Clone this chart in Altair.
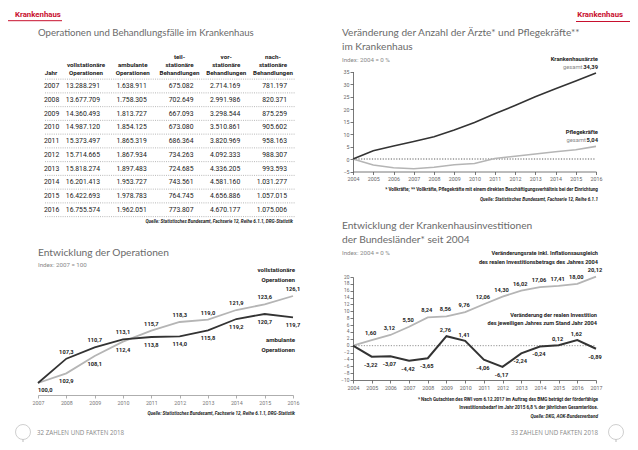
import altair as alt
import pandas as pd

# ---------------- data ----------------
tab_years = list(range(2007, 2017))
voll_ops = [13288291, 13677709, 14360493, 14987120, 15373497, 15714665, 15818274, 16201413, 16422693, 16755574]
amb_ops = [1638911, 1758305, 1813727, 1854125, 1865319, 1867934, 1897483, 1953727, 1978783, 1962051]
teil_stat = [675082, 702649, 667093, 673080, 686364, 734263, 724685, 743561, 764745, 773807]
vor_stat = [2714169, 2991986, 3298544, 3510861, 3820969, 4092333, 4336205, 4581160, 4656886, 4670177]
nach_stat = [781197, 820371, 875259, 905602, 958163, 988307, 993593, 1031277, 1057015, 1075006]
tab_cols = ["Jahr", "voll", "amb", "teil", "vor", "nach"]
tab_heads = ["Jahr", "vollstationäre\nOperationen", "ambulante\nOperationen",
             "teil-\nstationäre\nBehandlungen", "vor-\nstationäre\nBehandlungen",
             "nach-\nstationäre\nBehandlungen"]

op_years = list(range(2007, 2017))
op_voll = [100.0, 102.9, 108.1, 112.4, 115.7, 118.3, 119.0, 121.9, 123.6, 126.1]
op_amb = [100.0, 107.3, 110.7, 113.1, 113.8, 114.0, 115.8, 119.2, 120.7, 119.7]

st_years = list(range(2004, 2017))
st_aerzte = [0, 3.3, 5.2, 7.0, 8.9, 11.6, 14.6, 18.1, 21.4, 24.9, 28.1, 31.2, 34.39]
st_pflege = [0, -2.4, -3.5, -3.9, -3.3, -2.3, -1.8, 0.2, 1.1, 2.0, 2.9, 3.7, 5.04]

inv_years = list(range(2004, 2018))
inv_infl = [0, 1.60, 3.12, 5.50, 8.24, 8.56, 9.76, 12.06, 14.30, 16.02, 17.06, 17.41, 18.00, 20.12]
inv_real = [0, -3.22, -3.07, -4.42, -3.65, 2.76, 1.41, -4.06, -6.17, -2.24, -0.24, 0.12, 1.62, -0.89]

# ---------------- helpers ----------------
NARROW = "Roboto, sans-serif"
TITLEF = "Lato, Open Sans, sans-serif"
RED = "#c8102e"
DARK = "#333333"
LIGHT = "#b5b5b5"


def de_int(v):
    return f"{v:,}".replace(",", ".")


def de_dec(v, n):
    return f"{v:.{n}f}".replace(".", ",")


def txt(s, x, y, size, color="#222", font=NARROW, weight="normal", align="left",
        style="normal", baseline="middle", lh=None):
    kw = dict(align=align, baseline=baseline, font=font, fontSize=size, color=color,
              fontWeight=weight, fontStyle=style, lineBreak="\n")
    if lh:
        kw["lineHeight"] = lh
    return alt.Chart(pd.DataFrame({"t": [s]})).mark_text(**kw).encode(
        x=alt.value(x), y=alt.value(y), text="t:N")


def deco_rule(x, x2, y, y2, color, width, dash=None):
    kw = dict(color=color, strokeWidth=width)
    if dash:
        kw["strokeDash"] = dash
    return alt.Chart(pd.DataFrame({"a": [0]})).mark_rule(**kw).encode(
        x=alt.value(x), x2=alt.value(x2), y=alt.value(y), y2=alt.value(y2))


def lin(domain, rng):
    return alt.Scale(domain=domain, range=rng, zero=False, nice=False)


def xaxis(values, offset, color="#999", lcolor="#777", size=5.3):
    return alt.Axis(orient="bottom", offset=offset, values=values, format="d", title=None,
                    grid=False, domainColor=color, tickColor=color, tickSize=3,
                    domainWidth=0.8, tickWidth=0.8, labelFont=NARROW, labelFontSize=size,
                    labelColor=lcolor, labelPadding=2, labelFlush=False, labelOverlap=False)


def yaxis(values, offset, size=5.3):
    return alt.Axis(orient="left", offset=offset, values=values, format="d", title=None,
                    grid=False, domainColor="#555", tickColor="#555", tickSize=3,
                    domainWidth=0.8, tickWidth=0.8, labelFont=NARROW, labelFontSize=size,
                    labelColor="#666", labelPadding=1, labelOverlap=False)


layers = []

# ---------------- page decorations ----------------
SRC = 4.6
layers += [
    txt("Krankenhaus", 7, 7, 7.8, RED, weight="bold"),
    deco_rule(0, 54, 12.7, 12.7, RED, 1),
    txt("Krankenhaus", 615, 7, 7.8, RED, weight="bold", align="right"),
    deco_rule(568, 622, 13.5, 13.5, RED, 1),
    txt("Operationen und Behandlungsfälle im Krankenhaus", 30, 25, 9.6, "#6a6a6a", font=TITLEF),
    txt("Entwicklung der Operationen", 30, 245, 10.2, "#6a6a6a", font=TITLEF),
    txt("Index: 2007 = 100", 30, 257, 6.2, "#888"),
    txt("Veränderung der Anzahl der Ärzte* und Pflegekräfte**", 334, 25, 10.1, "#6a6a6a", font=TITLEF),
    txt("im Krankenhaus", 334, 39, 10.1, "#6a6a6a", font=TITLEF),
    txt("Index: 2004 = 0 %", 334, 52, 6.2, "#888"),
    txt("Entwicklung der Krankenhausinvestitionen", 334, 218, 10.2, "#6a6a6a", font=TITLEF),
    txt("der Bundesländer* seit 2004", 334, 232, 10.2, "#6a6a6a", font=TITLEF),
    txt("Index: 2004 = 0 %", 334, 245, 6.2, "#888"),
    txt("Quelle: Statistisches Bundesamt, Fachserie 12, Reihe 6.1.1, DRG-Statistik", 285, 214, SRC,
        "#222", weight="bold", style="italic", align="right"),
    txt("Quelle: Statistisches Bundesamt, Fachserie 12, Reihe 6.1.1, DRG-Statistik", 287, 406, SRC,
        "#222", weight="bold", style="italic", align="right"),
    txt("* Vollkräfte; ** Vollkräfte, Pflegekräfte mit einem direkten Beschäftigungsverhältnis bei der Einrichtung",
        590, 182, SRC, "#222", weight="bold", align="right"),
    txt("Quelle: Statistisches Bundesamt, Fachserie 12, Reihe 6.1.1", 590, 192, SRC, "#222",
        weight="bold", style="italic", align="right"),
    txt("* Nach Gutachten des RWI vom 6.12.2017 im Auftrag des BMG beträgt der förderfähige",
        590, 392, SRC, "#222", weight="bold", align="right"),
    txt("Investitionsbedarf im Jahr 2015 6,8 % der jährlichen Gesamterlöse.",
        590, 400, SRC, "#222", weight="bold", align="right"),
    txt("Quelle: DKG, AOK-Bundesverband", 590, 409, SRC, "#222", weight="bold", style="italic",
        align="right"),
    txt("32  ZAHLEN UND FAKTEN 2018", 29, 425, 6.2, "#888", font="Open Sans"),
    txt("33  ZAHLEN UND FAKTEN 2018", 590, 425, 6.2, "#888", font="Open Sans", align="right"),
]
for cx in (15, 608):
    layers.append(alt.Chart(pd.DataFrame({"a": [0]})).mark_point(
        shape="circle", size=225, filled=False, color="#aaa", strokeWidth=0.8).encode(
        x=alt.value(cx), y=alt.value(424)))
    layers.append(deco_rule(cx, cx, 431.5, 442, "#aaa", 0.8))

# ---------------- table ----------------
X_T = alt.Scale(type="point", domain=tab_cols, range=[45.25, 279], padding=0)
Y_T = lin([tab_years[0], tab_years[-1]], [78, 201.75])
rows = []
for i, yr in enumerate(tab_years):
    for c, arr in zip(tab_cols[1:], [voll_ops, amb_ops, teil_stat, vor_stat, nach_stat]):
        rows.append({"col": c, "Jahr": yr, "t": de_int(arr[i])})
tab_df = pd.DataFrame(rows)
jahr_df = pd.DataFrame({"col": ["Jahr"] * len(tab_years), "Jahr": tab_years,
                        "t": [str(y) for y in tab_years]})
head_rows = []
for c, h in zip(tab_cols, tab_heads):
    parts = h.split("\n")
    for k, p in enumerate(reversed(parts)):
        head_rows.append({"col": c, "t": p, "k": k})
head_df = pd.DataFrame(head_rows)
sep_df = pd.DataFrame({"Jahr": [y - 0.5 for y in tab_years] + [tab_years[-1] + 0.5]})

TFS = 6.8
layers += [
    alt.Chart(sep_df).mark_rule(color="#999", strokeWidth=0.7, strokeDash=[1, 1.2]).encode(
        x=alt.value(37), x2=alt.value(287), y=alt.Y("Jahr:Q", scale=Y_T, axis=None)),
    alt.Chart(tab_df).mark_text(align="right", baseline="middle", font=NARROW, fontSize=TFS,
                                color="#222").encode(
        x=alt.X("col:N", scale=X_T, axis=None), y=alt.Y("Jahr:Q", scale=Y_T, axis=None), text="t:N"),
    alt.Chart(jahr_df).mark_text(align="right", baseline="middle", font=NARROW, fontSize=TFS,
                                 color="#222", dx=6).encode(
        x=alt.X("col:N", scale=X_T, axis=None), y=alt.Y("Jahr:Q", scale=Y_T, axis=None), text="t:N"),
]
for k, yy in enumerate([65.3, 56.9, 48.6]):
    layers.append(
        alt.Chart(head_df).transform_filter(f"datum.k == {k} && datum.col != 'Jahr'").mark_text(
            align="center", baseline="middle", font=NARROW, fontSize=6.2, fontWeight="bold",
            color="#222", dx=-14).encode(
            x=alt.X("col:N", scale=X_T, axis=None), y=alt.value(yy), text="t:N"))
layers.append(
    alt.Chart(head_df).transform_filter("datum.col == 'Jahr'").mark_text(
        align="right", baseline="middle", font=NARROW, fontSize=6.2, fontWeight="bold",
        color="#222", dx=4).encode(
        x=alt.X("col:N", scale=X_T, axis=None), y=alt.value(65.3), text="t:N"))

# ---------------- chart 1: Operationen ----------------
X_O = lin([op_years[0], op_years[-1]], [30, 285])
Y_O = lin([96.4, 130], [387, 275])
op_df = pd.DataFrame({"year": op_years, "voll": op_voll, "amb": op_amb,
                      "lv": [de_dec(v, 1) for v in op_voll],
                      "la": [de_dec(v, 1) for v in op_amb]})

LFS = 5.7


def op_lbl(field, text, filt, dy, align="center"):
    return alt.Chart(op_df).transform_filter(filt).mark_text(
        align=align, baseline="middle", font=NARROW, fontSize=LFS, fontWeight="bold",
        color="#222", dy=dy).encode(
        x=alt.X("year:Q", scale=X_O, axis=None), y=alt.Y(f"{field}:Q", scale=Y_O, axis=None),
        text=f"{text}:N")


layers += [
    alt.Chart(op_df).mark_line(color=LIGHT, strokeWidth=1.8).encode(
        x=alt.X("year:Q", scale=X_O, axis=xaxis(op_years, -47)),
        y=alt.Y("voll:Q", scale=Y_O, axis=None)),
    alt.Chart(op_df).mark_line(color=DARK, strokeWidth=1.8).encode(
        x=alt.X("year:Q", scale=X_O, axis=None),
        y=alt.Y("amb:Q", scale=Y_O, axis=None)),
    op_lbl("voll", "lv", "datum.voll > datum.amb", -7),
    op_lbl("voll", "lv", "datum.voll < datum.amb", 8),
    op_lbl("amb", "la", "datum.amb > datum.voll", -7),
    op_lbl("amb", "la", "datum.amb < datum.voll", 8),
    op_lbl("voll", "lv", "datum.amb == datum.voll", 7, align="left"),
    txt("vollstationäre\nOperationen", 287, 262, 6.1, "#222", weight="bold", align="right", lh=9.5),
    txt("ambulante\nOperationen", 287, 332, 6.1, "#222", weight="bold", align="right", lh=9.5),
]

# ---------------- chart 2: Ärzte / Pflegekräfte ----------------
X_S = lin([st_years[0], st_years[-1]], [345, 588])
Y_S = lin([-5, 35], [163.5, 63.5])
st_df = pd.DataFrame({"year": st_years, "a": st_aerzte, "p": st_pflege})
zero_s = pd.DataFrame({"x0": [st_years[0]], "x1": [st_years[-1]], "z": [0]})
layers += [
    alt.Chart(zero_s).mark_rule(color=DARK, strokeWidth=0.8, strokeDash=[1.2, 1.5]).encode(
        x=alt.X("x0:Q", scale=X_S, axis=None), x2="x1:Q",
        y=alt.Y("z:Q", scale=Y_S, axis=None)),
    alt.Chart(st_df).mark_line(color=LIGHT, strokeWidth=1.6).encode(
        x=alt.X("year:Q", scale=X_S, axis=None), y=alt.Y("p:Q", scale=Y_S, axis=None)),
    alt.Chart(st_df).mark_line(color=DARK, strokeWidth=1.6).encode(
        x=alt.X("year:Q", scale=X_S, axis=xaxis(st_years, -270.5, color="#555", lcolor="#666")),
        y=alt.Y("a:Q", scale=Y_S, axis=yaxis(list(range(-5, 36, 5)), -345))),
    txt("Krankenhausärzte", 590, 51, 5.8, "#222", weight="bold", align="right"),
    txt(de_dec(st_aerzte[-1], 2), 590, 58.5, 5.8, "#222", weight="bold", align="right"),
    txt("gesamt", 574.5, 58.5, 5.8, "#888", align="right"),
    txt("Pflegekräfte", 590, 124, 5.8, "#222", weight="bold", align="right"),
    txt(de_dec(st_pflege[-1], 2), 590, 132, 5.8, "#222", weight="bold", align="right"),
    txt("gesamt", 578, 132, 5.8, "#888", align="right"),
]

# ---------------- chart 3: Investitionen ----------------
X_I = lin([inv_years[0], inv_years[-1]], [345, 588])
Y_I = lin([-10, 20], [372, 269])
inv_df = pd.DataFrame({"year": inv_years, "g": inv_infl, "r": inv_real,
                       "lg": [de_dec(v, 2) for v in inv_infl],
                       "lr": [de_dec(v, 2) for v in inv_real]})
zero_i = pd.DataFrame({"x0": [inv_years[0]], "x1": [inv_years[-1]], "z": [0]})


def inv_lbl(field, text, filt, dy):
    return alt.Chart(inv_df).transform_filter(filt).mark_text(
        align="center", baseline="middle", font=NARROW, fontSize=LFS, fontWeight="bold",
        color="#222", dy=dy, dx=-1).encode(
        x=alt.X("year:Q", scale=X_I, axis=None), y=alt.Y(f"{field}:Q", scale=Y_I, axis=None),
        text=f"{text}:N")


layers += [
    alt.Chart(zero_i).mark_rule(color="#777", strokeWidth=0.8, strokeDash=[1.2, 1.5]).encode(
        x=alt.X("x0:Q", scale=X_I, axis=None), x2="x1:Q",
        y=alt.Y("z:Q", scale=Y_I, axis=None)),
    alt.Chart(inv_df).mark_line(color=LIGHT, strokeWidth=1.8).encode(
        x=alt.X("year:Q", scale=X_I, axis=None), y=alt.Y("g:Q", scale=Y_I, axis=None)),
    alt.Chart(inv_df).mark_line(color=DARK, strokeWidth=2).encode(
        x=alt.X("year:Q", scale=X_I, axis=xaxis(inv_years, -62, color="#555", lcolor="#666")),
        y=alt.Y("r:Q", scale=Y_I, axis=yaxis(list(range(-10, 21, 2)), -345, size=4.8))),
    inv_lbl("g", "lg", "datum.year > %d" % inv_years[0], -7),
    inv_lbl("r", "lr", "datum.year > %d && datum.r > 0" % inv_years[0], -6),
    inv_lbl("r", "lr", "datum.r < 0", 8),
    txt("Veränderungsrate inkl. Inflationsausgleich\ndes realen Investitionsbetrags des Jahres 2004",
        590, 245, 5.6, "#222", weight="bold", align="right", lh=9),
    txt("Veränderung der realen Investition\ndes jeweiligen Jahres zum Stand Jahr 2004",
        589, 307, 5.6, "#222", weight="bold", align="right", lh=8),
]

chart = alt.layer(*layers).properties(
    width=622, height=434, padding=0,
    autosize=alt.AutoSizeParams(type="none"),
).resolve_scale(x="independent", y="independent").configure_view(stroke=None)

chart.save("out.html", embed_options={"renderer": "svg", "actions": False})
